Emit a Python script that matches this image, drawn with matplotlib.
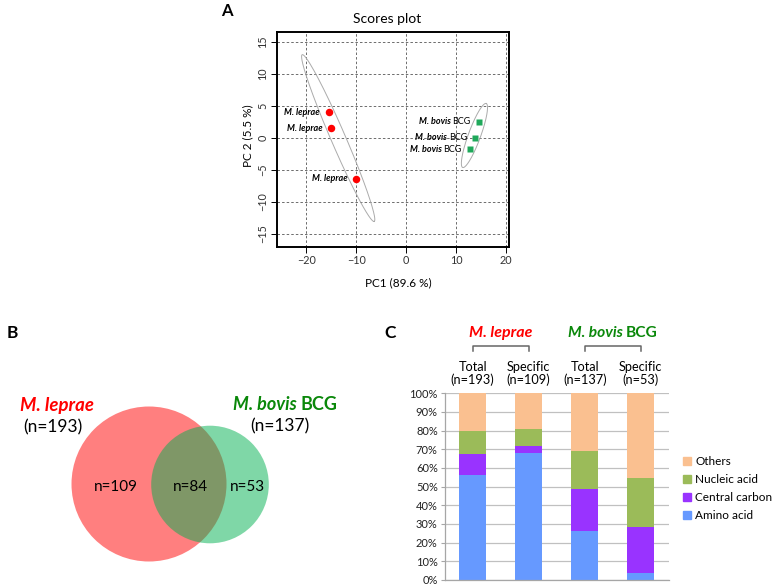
import numpy as np
import matplotlib
matplotlib.use("Agg")
import matplotlib.pyplot as plt
from matplotlib.patches import Circle, Patch
from matplotlib.transforms import IdentityTransform

plt.rcParams["font.family"] = ["Lato", "DejaVu Sans"]

W, H = 774, 586

# A: PCA scores plot
leprae_pc1 = [-15.5, -15.0, -10.0]
leprae_pc2 = [4.0, 1.5, -6.4]
bcg_pc1 = [14.5, 13.8, 12.7]
bcg_pc2 = [2.5, 0.0, -1.8]
# confidence ellipses: centre, half major axis, half minor axis
leprae_ell = [(-13.6, -0.05), (7.2, -13.05), (1.34, 0.45)]
bcg_ell = [(13.65, 0.35), (2.35, 5.01), (1.15, -0.33)]

# B: Venn counts
n_leprae, n_bcg = 193, 137
n_only_leprae, n_shared, n_only_bcg = 109, 84, 53

# C: pathway composition (%)
bar_labels = ["Total\n(n=193)", "Specific\n(n=109)", "Total\n(n=137)", "Specific\n(n=53)"]
amino = [56.0, 68.0, 26.3, 3.7]
central = [11.5, 3.8, 22.4, 24.6]
nucleic = [12.4, 9.1, 20.6, 26.3]
others = [20.1, 19.1, 30.7, 45.4]
classes = ["Amino acid", "Central carbon", "Nucleic acid", "Others"]
class_colors = ["#6699FF", "#9933FF", "#9BBB59", "#FAC090"]

RED = "#FF0000"
DKGREEN = "#0A880A"

fig = plt.figure(figsize=(W / 100, H / 100), dpi=100)


def rect(x0, y0, x1, y1):
    # pixel box (top-left origin) -> figure fraction rect
    return [x0 / W, 1 - y1 / H, (x1 - x0) / W, (y1 - y0) / H]


def ptext(x, y, s, **kw):
    # text at pixel position, top-left origin
    return fig.text(x / W, 1 - y / H, s, **kw)


pending = []


def bovis_label(x, y, size, color, bcg_weight="bold", align="center"):
    # "M. bovis" in bold italic followed by "BCG"; x, y display pixels
    t1 = fig.text(x, y, "M. bovis", transform=IdentityTransform(), fontsize=size,
                  color=color, style="italic", weight="bold", ha="left", va="center")
    t2 = fig.text(x, y, "BCG", transform=IdentityTransform(), fontsize=size,
                  color=color, weight=bcg_weight, ha="left", va="center")
    pending.append((t1, t2, x, y, size, align))


# ---------------- A ----------------
axA = fig.add_axes(rect(276.7, 32.3, 508.7, 247))
axA.set_xlim(-25.9, 20.5)
axA.set_ylim(-17.1, 16.5)
axA.set_xticks([-20, -10, 0, 10, 20])
axA.set_yticks(range(-15, 16, 5))
axA.grid(True, ls=(0, (3, 2.5)), color="#555555", lw=0.6)
axA.set_axisbelow(True)
for s in axA.spines.values():
    s.set_linewidth(1.4)
axA.tick_params(labelsize=7.8, length=4, width=0.7, pad=2, labelcolor="#333333")
axA.tick_params(axis="y", labelrotation=90)
plt.setp(axA.get_yticklabels(), va="center")

t = np.linspace(0, 2 * np.pi, 300)
for (c, u, v) in [leprae_ell, bcg_ell]:
    ex = c[0] + u[0] * np.cos(t) + v[0] * np.sin(t)
    ey = c[1] + u[1] * np.cos(t) + v[1] * np.sin(t)
    axA.plot(ex, ey, color="#ABABAB", lw=0.7, zorder=2)

axA.plot(leprae_pc1, leprae_pc2, "o", color=RED, ms=5.4, mec="none", zorder=3)
axA.plot(bcg_pc1, bcg_pc2, "s", color="#1FA85A", ms=4.5, mec="none", zorder=3)

for px, py in zip(leprae_pc1, leprae_pc2):
    axA.annotate("M. leprae", (px, py), xytext=(-6.5, 0), textcoords="offset points",
                 ha="right", va="center", fontsize=6.5, style="italic", weight="bold")
for px, py in zip(bcg_pc1, bcg_pc2):
    dx, dy = axA.transData.transform((px, py))
    bovis_label(dx - 8, dy, 6.5, "black", bcg_weight="normal", align="right")

ptext(386.7, 19, "Scores plot", fontsize=10, ha="center", va="center")
ptext(398, 283, "PC1 (89.6 %)", fontsize=8.5, ha="center", va="center")
ptext(248, 136, "PC 2 (5.5 %)", fontsize=8.5, ha="center", va="center", rotation=90)
ptext(227, 11, "A", fontsize=12, weight="bold", ha="center", va="center")

# ---------------- B ----------------
axB = fig.add_axes(rect(0, 290, 380, 586))
axB.set_xlim(0, 380)
axB.set_ylim(586, 290)
axB.axis("off")
axB.add_patch(Circle((149, 484), 77.5, fc=RED, alpha=0.5, lw=0))
axB.add_patch(Circle((210, 484.5), 58.8, fc="#00B050", alpha=0.5, lw=0))

axB.text(116, 487, f"n={n_only_leprae}", fontsize=11, ha="center", va="center")
axB.text(190, 487, f"n={n_shared}", fontsize=11, ha="center", va="center")
axB.text(247, 487, f"n={n_only_bcg}", fontsize=11, ha="center", va="center")
axB.text(56.7, 405, "M. leprae", fontsize=13.4, color=RED, style="italic", weight="bold",
         ha="center", va="center")
axB.text(52.5, 427.5, f"(n={n_leprae})", fontsize=12.5, ha="center", va="center")
bovis_label(285, H - 404, 13, DKGREEN)
axB.text(279.5, 426.5, f"(n={n_bcg})", fontsize=12.5, ha="center", va="center")
ptext(12, 333, "B", fontsize=12.5, weight="bold", ha="center", va="center")

# ---------------- C ----------------
axC = fig.add_axes(rect(444.7, 393.3, 668.7, 580))
xs = np.arange(len(bar_labels))
bottom = np.zeros(len(xs))
for vals, col, name in zip([amino, central, nucleic, others], class_colors, classes):
    axC.bar(xs, vals, 0.49, bottom=bottom, color=col, label=name, zorder=2)
    bottom += np.array(vals)

axC.set_xlim(-0.5, 3.5)
axC.set_ylim(0, 100)
axC.set_yticks(range(0, 101, 10))
axC.set_yticklabels([f"{v}%" for v in range(0, 101, 10)])
axC.set_xticks([])
axC.grid(axis="y", color="#C0C0C0", lw=0.9)
axC.set_axisbelow(True)
for side in ["top", "right"]:
    axC.spines[side].set_visible(False)
for side in ["left", "bottom"]:
    axC.spines[side].set_color("#A6A6A6")
    axC.spines[side].set_linewidth(0.9)
axC.tick_params(axis="y", labelsize=8, length=3, color="#A6A6A6", pad=2, labelcolor="#222222")

for i, lab in enumerate(bar_labels):
    axC.annotate(lab, (i, 1), xycoords=("data", "axes fraction"), xytext=(0, 14.4),
                 textcoords="offset points", ha="center", va="center", fontsize=9.2,
                 linespacing=1.05)

tr = axC.get_xaxis_transform()
for a, b in [(0, 1), (2, 3)]:
    axC.plot([a, a, b, b], [1.228, 1.255, 1.255, 1.228], color="#666666", lw=1.1,
             transform=tr, clip_on=False)

axC.text(0.5, 1.323, "M. leprae", transform=tr, fontsize=11.5, color=RED,
         style="italic", weight="bold", ha="center", va="center")
gx, gy = axC.transData.transform((2.5, 0))
bovis_label(gx, H - 333, 11.2, DKGREEN)
ptext(390, 333, "C", fontsize=12.5, weight="bold", ha="center", va="center")

handles = [Patch(color=c, label=n) for c, n in zip(class_colors, classes)][::-1]
fig.legend(handles=handles, loc="center left", bbox_to_anchor=(683 / W, 1 - 488.5 / H),
           frameon=False, fontsize=8.5, handlelength=0.7, handleheight=0.7,
           handletextpad=0.35, labelspacing=0.6, borderpad=0, borderaxespad=0)

# lay out the two-part "M. bovis BCG" labels
fig.canvas.draw()
r = fig.canvas.get_renderer()
for t1, t2, x, y, size, align in pending:
    w1 = t1.get_window_extent(r).width
    w2 = t2.get_window_extent(r).width
    gap = size * 0.27
    total = w1 + gap + w2
    start = x - total / 2 if align == "center" else x - total
    t1.set_position((start, y))
    t2.set_position((start + w1 + gap, y))

fig.savefig("out.png", dpi=100)
